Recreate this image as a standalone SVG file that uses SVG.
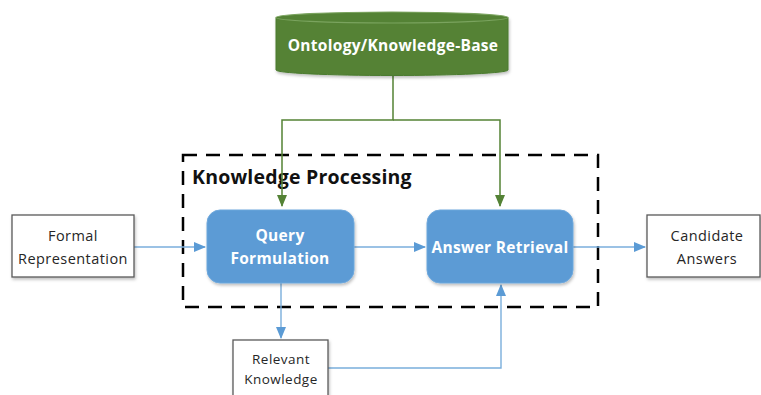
<svg xmlns="http://www.w3.org/2000/svg" width="761" height="395" viewBox="0 0 761 395">
<defs>
<filter id="sh" x="-10%" y="-10%" width="130%" height="140%">
<feDropShadow dx="1" dy="2" stdDeviation="1.5" flood-color="#000" flood-opacity="0.25"/>
</filter>
<marker id="ab" markerWidth="12" markerHeight="10" refX="11" refY="5" orient="auto" markerUnits="userSpaceOnUse">
<path d="M0,0 L12,5 L0,10 Z" fill="#5B9BD5"/>
</marker>
<marker id="ag" markerWidth="12" markerHeight="10" refX="11" refY="5" orient="auto" markerUnits="userSpaceOnUse">
<path d="M0,0 L12,5 L0,10 Z" fill="#548235"/>
</marker>
</defs>
<style>
.box{fill:#fff;stroke:#595959;stroke-width:1.3}
.proc{fill:#5B9BD5;stroke:#6fa8dc;stroke-width:1}
.t{font-family:"Open Sans","Liberation Sans",Arial,sans-serif;fill:#262626;text-anchor:middle;letter-spacing:0.45px}
.tw{font-family:"Open Sans","Liberation Sans",Arial,sans-serif;fill:#fff;font-weight:bold;text-anchor:middle;letter-spacing:0.3px}
.bl{fill:none;stroke:#7aaedc;stroke-width:1.4}
.gl{fill:none;stroke:#548235;stroke-width:1.5}
</style>
<rect width="761" height="395" fill="#fff"/>
<g id="knowledge-processing">
<rect x="183" y="155" width="415" height="152" fill="none" stroke="#000" stroke-width="2.5" stroke-dasharray="14,9"/>
<text x="192" y="184" font-family="'Open Sans','Liberation Sans',Arial,sans-serif" font-weight="bold" font-size="19.5" letter-spacing="0.2" fill="#111">Knowledge Processing</text>
</g>
<g id="connectors">
<path class="gl" d="M393,76 V120 H282 V206" marker-end="url(#ag)"/>
<path class="gl" d="M393,120 H500 V206" marker-end="url(#ag)"/>
<path class="bl" d="M134,247 H205" marker-end="url(#ab)"/>
<path class="bl" d="M354,247 H425" marker-end="url(#ab)"/>
<path class="bl" d="M573,247 H645" marker-end="url(#ab)"/>
<path class="bl" d="M281,283 V338" marker-end="url(#ab)"/>
<path class="bl" d="M328,368 H501 V285" marker-end="url(#ab)"/>
</g>
<g id="ontology">
<path d="M276,17.5 V70 A116,5.5 0 0 0 508,70 V17.5 Z" fill="#548235" stroke="#4a7a2e" stroke-width="1" filter="url(#sh)"/>
<ellipse cx="392" cy="17.5" rx="116" ry="5.5" fill="#548235" stroke="#7aa35e" stroke-width="1.2"/>
<text x="393" y="51" class="tw" font-size="15.5">Ontology/Knowledge-Base</text>
</g>
<g id="formal-representation">
<rect class="box" x="12" y="215" width="122" height="62" filter="url(#sh)"/>
<text class="t" x="73" y="241" font-size="14.5">Formal</text>
<text class="t" x="73" y="264" font-size="14.5">Representation</text>
</g>
<g id="query-formulation">
<rect class="proc" x="207" y="210" width="147" height="73" rx="13" filter="url(#sh)"/>
<text class="tw" x="280" y="241" font-size="15.5">Query</text>
<text class="tw" x="280" y="264" font-size="15.5">Formulation</text>
</g>
<g id="answer-retrieval">
<rect class="proc" x="427" y="210" width="146" height="73" rx="13" filter="url(#sh)"/>
<text class="tw" x="500" y="253" font-size="15.5">Answer Retrieval</text>
</g>
<g id="candidate-answers">
<rect class="box" x="647" y="215" width="113" height="62" filter="url(#sh)"/>
<text class="t" x="707" y="241" font-size="14.5">Candidate</text>
<text class="t" x="707" y="264" font-size="14.5">Answers</text>
</g>
<g id="relevant-knowledge">
<rect class="box" x="233" y="340" width="95" height="60" filter="url(#sh)"/>
<text class="t" x="281" y="364" font-size="13.5">Relevant</text>
<text class="t" x="281" y="384" font-size="13.5">Knowledge</text>
</g>
</svg>
